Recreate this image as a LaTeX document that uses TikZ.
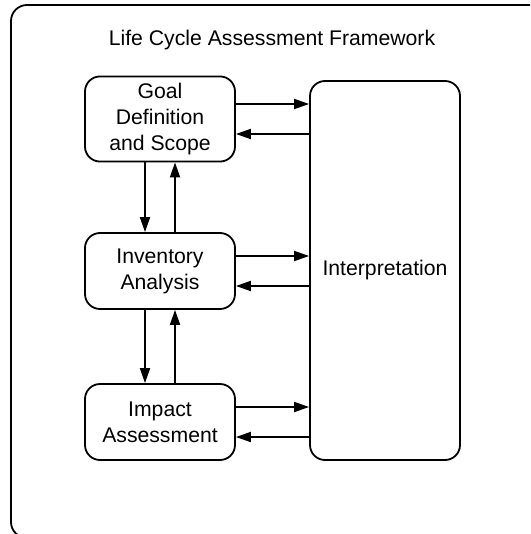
\documentclass[tikz,border=0pt]{standalone}
\usepackage{fontspec}
\setmainfont{Liberation Sans}
\usetikzlibrary{arrows.meta}
\begin{document}
\begin{tikzpicture}[x=0.5pt,y=-0.5pt,line width=0.9pt,
    >={Triangle[length=7.5pt,width=5pt]},
    stage/.style={draw,rounded corners=7.5pt,align=center,
      minimum width=75pt,font=\fontsize{10.6}{13}\selectfont}]
      \clip (0,0) rectangle (530,534);
      \draw[rounded corners=8pt] (11,5) rectangle (600,538);
      \node[anchor=base,font=\fontsize{10.6}{13}\selectfont] (title) at (272,46) {Life Cycle Assessment Framework};

      \def \Stages {
        goal/119/{Goal\\Definition\\and Scope},
        inv/271/{Inventory\\Analysis},
        imp/422/{Impact\\Assessment}}

      \foreach \id / \y / \txt in \Stages {
        \node[stage,minimum height=38pt] (\id) at (160,\y) {\txt};
      }
      \node[stage,minimum height=189.5pt] (interp) at (385,270.5) {Interpretation};

      \foreach \id / \s / \dir in {goal/7.5pt/->, goal/-7.5pt/<-,
          inv/7.5pt/->, inv/-7.5pt/<-, imp/7.5pt/->, imp/-7.5pt/<-} {
        \draw[\dir] ([yshift=\s]\id.east) -- ([yshift=\s]\id.east -| interp.west);
      }
      \foreach \a / \b in {goal/inv, inv/imp} {
        \draw[->] ([xshift=-7.5pt]\a.south) -- ([xshift=-7.5pt]\b.north);
        \draw[<-] ([xshift=7.5pt]\a.south) -- ([xshift=7.5pt]\b.north);
      }
    \end{tikzpicture}
\end{document}
